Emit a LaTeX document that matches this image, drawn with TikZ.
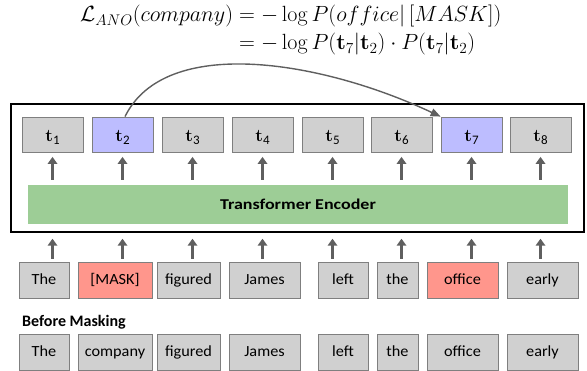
\RequirePackage{fix-cm}
\documentclass[tikz,border=0pt]{standalone}
\usepackage{amsmath}
\usepackage[no-math]{fontspec}
\setmainfont{Carlito}
\newfontfamily\wordfont[FakeStretch=1.05]{Carlito}
\newfontfamily\encfont[FakeStretch=1.2]{Carlito}
\usetikzlibrary{arrows.meta}
\definecolor{boxgray}{HTML}{D0D0D0}
\definecolor{boxedge}{HTML}{7F7F7F}
\definecolor{tblue}{HTML}{BDBDFF}
\definecolor{wred}{HTML}{FF968C}
\definecolor{encgreen}{HTML}{9DCD96}
\definecolor{arrgray}{HTML}{5F5F5F}
\tikzset{
  tok/.style={draw=boxedge, line width=0.8pt, fill=boxgray, minimum height=36pt, inner sep=0pt,
    text height=10pt, text depth=0pt, font=\wordfont\fontsize{15.5}{18}\selectfont},
  tbox/.style={draw=boxedge, line width=0.8pt, fill=boxgray, minimum height=35pt, minimum width=61pt,
    inner sep=0pt, text height=15pt, text depth=0pt},
  uparr/.style={draw=arrgray, line width=2.8pt, -{Triangle[width=9.5pt,length=7pt]}},
  curvearr/.style={draw=arrgray, line width=1.4pt, -{Triangle[width=8pt,length=10pt]}},
  eqtext/.style={anchor=base west, inner sep=0pt, font=\fontsize{22}{26}\selectfont},
}
\newcommand{\tl}[1]{{\fontsize{17.5}{20}\selectfont$\mathbf{t}$}\raisebox{-3pt}{\fontsize{13}{15}\selectfont #1}}
\begin{document}
\begin{tikzpicture}[x=1pt,y=-1pt]
\useasboundingbox (0,0) rectangle (587,371);
% equation
\node[eqtext] (eq1) at (80,22)
  {$\mathcal{L}_{ANO}(company) = -\log P(office|\,[MASK])$};
\node[eqtext] (eq2) at (80,50)
  {$\phantom{\mathcal{L}_{ANO}(company)} = -\log P(\mathbf{t}_7|\mathbf{t}_2)\cdot P(\mathbf{t}_7|\mathbf{t}_2)$};
% outer box
\node[draw=black, line width=1.4pt, minimum width=573pt, minimum height=128pt, inner sep=0pt] (outer) at (297.5,168) {};
% encoder
\node[fill=encgreen, minimum width=540pt, minimum height=39pt, inner sep=0pt, text height=9.5pt, text depth=0pt,
  font=\encfont\fontsize{15}{17}\selectfont\bfseries] (enc) at (298,204.5) {Transformer Encoder};
% t boxes
\node[tbox] (t1) at (52.5,134.5) {\tl{1}};
\node[tbox, fill=tblue] (t2) at (122.5,134.5) {\tl{2}};
\node[tbox] (t3) at (192.5,134.5) {\tl{3}};
\node[tbox] (t4) at (262.5,134.5) {\tl{4}};
\node[tbox] (t5) at (332.5,134.5) {\tl{5}};
\node[tbox] (t6) at (401.5,134.5) {\tl{6}};
\node[tbox, fill=tblue] (t7) at (471.5,134.5) {\tl{7}};
\node[tbox] (t8) at (540.5,134.5) {\tl{8}};
% word row (masked)
\node[tok, minimum width=50pt] (w1) at (44,280) {The};
\node[tok, minimum width=74pt, fill=wred] (w2) at (115,280) {[MASK]};
\node[tok, minimum width=63pt] (w3) at (188.5,280) {figured};
\node[tok, minimum width=71pt] (w4) at (264.5,280) {James};
\node[tok, minimum width=50pt] (w5) at (343,280) {left};
\node[tok, minimum width=41pt] (w6) at (397.5,280) {the};
\node[tok, minimum width=71pt, fill=wred] (w7) at (462.5,280) {office};
\node[tok, minimum width=71pt] (w8) at (542.5,280) {early};
% before masking
\node[anchor=base west, inner sep=0pt, font=\fontsize{16}{19}\selectfont\bfseries] (lab) at (22,327) {Before Masking};
\node[tok, minimum width=50pt] (b1) at (44,352) {The};
\node[tok, minimum width=74pt] (b2) at (115,352) {company};
\node[tok, minimum width=63pt] (b3) at (188.5,352) {figured};
\node[tok, minimum width=71pt] (b4) at (264.5,352) {James};
\node[tok, minimum width=50pt] (b5) at (343,352) {left};
\node[tok, minimum width=41pt] (b6) at (397.5,352) {the};
\node[tok, minimum width=71pt] (b7) at (462.5,352) {office};
\node[tok, minimum width=71pt] (b8) at (542.5,352) {early};
% arrows
\foreach \i in {1,...,8}{
  \draw[uparr, shorten <=5pt, shorten >=4.5pt] (enc.north -| t\i) -- (t\i.south);
  \draw[uparr, shorten <=3pt, shorten >=6pt] (w\i.north -| t\i) -- (outer.south -| t\i);
}
% curve
\draw[curvearr] ([xshift=2.5pt]t2.north) .. controls (165,35) and (320,60) .. (t7.north west);
\end{tikzpicture}
\end{document}
